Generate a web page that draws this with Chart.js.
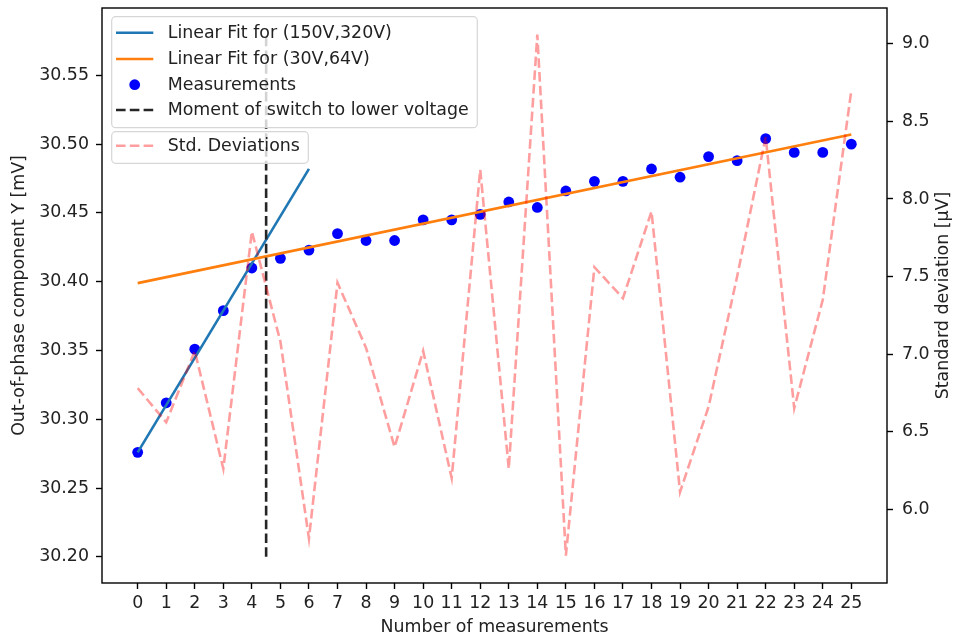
<!DOCTYPE html>
<html>
<head>
<meta charset="utf-8">
<script src="https://cdn.jsdelivr.net/npm/chart.js@4/dist/chart.umd.min.js"></script>
<style>
  html, body { margin: 0; padding: 0; background: #fff; }
  canvas { display: block; }
</style>
</head>
<body>
<canvas id="chart" width="956" height="638"></canvas>
<script>
// data
const measurementNo = [0, 1, 2, 3, 4, 5, 6, 7, 8, 9, 10, 11, 12, 13, 14, 15, 16, 17, 18, 19, 20, 21, 22, 23, 24, 25];
const measurements = [30.276, 30.312, 30.351, 30.379, 30.410, 30.417, 30.423, 30.435, 30.430, 30.430,
  30.445, 30.445, 30.449, 30.458, 30.454, 30.466, 30.473, 30.473, 30.482, 30.476,
  30.491, 30.488, 30.504, 30.494, 30.494, 30.500];
const stdDevs = [6.78, 6.56, 7.02, 6.26, 7.79, 7.08, 5.81, 7.46, 7.04, 6.40,
  7.02, 6.20, 8.19, 6.26, 9.06, 5.70, 7.56, 7.36, 7.92, 6.11,
  6.66, 7.50, 8.40, 6.65, 7.35, 8.70];

const highFitX = [0, 6];
const highFitY = [30.276, 30.482];
const lowFitX = [0, 25];
const lowFitY = [30.399, 30.507];
const switchX = [4.5, 4.5];
const switchY = [30.20, 30.58];

const xTicks = measurementNo;
const leftTicks = [30.20, 30.25, 30.30, 30.35, 30.40, 30.45, 30.50, 30.55];
const rightTicks = [6.0, 6.5, 7.0, 7.5, 8.0, 8.5, 9.0];

const FONT_FAMILY = 'DejaVu Sans';
const FONT_SIZE = 17.4;
const TEXT = '#222';
const LW = 2.6;
const DASH = [9.6, 4.2];

const pts = (xs, ys) => xs.map((x, i) => ({x: x, y: ys[i]}));

const legendBoxes = [
  {x: 111.7, y: 16.7, w: 365.6, h: 111, rows: [32.7, 59, 84.7, 110],
   labels: ['Linear Fit for (150V,320V)', 'Linear Fit for (30V,64V)', 'Measurements', 'Moment of switch to lower voltage']},
  {x: 111.7, y: 131.7, w: 196.6, h: 31.6, rows: [145.7], labels: ['Std. Deviations']},
];

const extras = {
  id: 'extras',
  afterDraw(chart) {
    const ctx = chart.ctx;
    const a = chart.chartArea;
    ctx.save();
    // frame
    ctx.strokeStyle = '#000';
    ctx.lineWidth = 1.4;
    ctx.setLineDash([]);
    ctx.strokeRect(a.left, a.top, a.right - a.left, a.bottom - a.top);

    // axis titles
    ctx.fillStyle = TEXT;
    ctx.font = FONT_SIZE + 'px "' + FONT_FAMILY + '"';
    ctx.textAlign = 'center';
    ctx.textBaseline = 'middle';
    ctx.fillText('Number of measurements', (a.left + a.right) / 2, 627);
    const midY = (a.top + a.bottom) / 2;
    [[19, 'Out-of-phase component Y [mV]'], [943, 'Standard deviation [μV]']].forEach(([x, t]) => {
      ctx.save();
      ctx.translate(x, midY);
      ctx.rotate(-Math.PI / 2);
      ctx.fillText(t, 0, 0);
      ctx.restore();
    });

    // legends
    const sets = chart.data.datasets;
    legendBoxes.forEach(box => {
      ctx.beginPath();
      ctx.roundRect(box.x, box.y, box.w, box.h, 4);
      ctx.fillStyle = 'rgba(255,255,255,0.8)';
      ctx.fill();
      ctx.strokeStyle = '#d6d6d6';
      ctx.lineWidth = 1.2;
      ctx.setLineDash([]);
      ctx.stroke();
      box.labels.forEach((lab, i) => {
        const ds = sets.find(d => d.label === lab);
        const y = box.rows[i];
        if (ds.showLine === false) {
          ctx.beginPath();
          ctx.arc(134.7, y, ds.pointRadius, 0, Math.PI * 2);
          ctx.fillStyle = ds.backgroundColor;
          ctx.fill();
        } else {
          ctx.beginPath();
          ctx.moveTo(116, y);
          ctx.lineTo(153.3, y);
          ctx.strokeStyle = ds.borderColor;
          ctx.lineWidth = ds.borderWidth;
          ctx.setLineDash(ds.borderDash || []);
          ctx.stroke();
          ctx.setLineDash([]);
        }
        ctx.fillStyle = TEXT;
        ctx.textAlign = 'left';
        ctx.textBaseline = 'middle';
        ctx.fillText(lab, 167.7, y + 0.5);
      });
    });
    ctx.restore();
  }
};

const tickGrid = {display: true, drawOnChartArea: false, drawTicks: true, color: '#000', tickLength: 6, tickWidth: 1.4};

// pin the plot area: no extra room for overhanging edge labels
const fixY = w => axis => { axis.width = w; axis.paddingTop = 0; axis.paddingBottom = 0; };

new Chart(document.getElementById('chart'), {
  type: 'line',
  plugins: [extras],
  data: {
    datasets: [
      {
        label: 'Std. Deviations',
        data: pts(measurementNo, stdDevs),
        yAxisID: 'y2',
        borderColor: 'rgba(255,0,0,0.38)',
        borderWidth: LW,
        borderDash: DASH,
        pointRadius: 0,
        tension: 0,
        order: 0,
      },
      {
        label: 'Moment of switch to lower voltage',
        data: pts(switchX, switchY),
        yAxisID: 'y',
        borderColor: '#262626',
        borderWidth: LW,
        borderDash: DASH,
        pointRadius: 0,
        order: 1,
      },
      {
        label: 'Linear Fit for (30V,64V)',
        data: pts(lowFitX, lowFitY),
        yAxisID: 'y',
        borderColor: '#ff7f0e',
        borderWidth: LW,
        pointRadius: 0,
        order: 2,
      },
      {
        label: 'Linear Fit for (150V,320V)',
        data: pts(highFitX, highFitY),
        yAxisID: 'y',
        borderColor: '#1f77b4',
        borderWidth: LW,
        pointRadius: 0,
        order: 3,
      },
      {
        label: 'Measurements',
        data: pts(measurementNo, measurements),
        yAxisID: 'y',
        showLine: false,
        pointRadius: 5.4,
        pointBorderWidth: 0,
        backgroundColor: '#0000ff',
        borderColor: '#0000ff',
        order: 4,
      },
    ],
  },
  options: {
    responsive: false,
    animation: false,
    events: [],
    layout: {padding: {top: 8, left: 0, right: 0, bottom: 0}},
    plugins: {
      legend: {display: false},
      tooltip: {enabled: false},
    },
    scales: {
      x: {
        type: 'linear',
        min: -1.25,
        max: 26.25,
        afterBuildTicks: axis => { axis.ticks = xTicks.map(v => ({value: v})); },
        afterFit: axis => { axis.height = 55; axis.paddingLeft = 0; axis.paddingRight = 0; },
        ticks: {
          autoSkip: false,
          maxRotation: 0,
          padding: 4,
          color: TEXT,
          font: {family: FONT_FAMILY, size: FONT_SIZE},
          callback: v => String(v),
        },
        grid: tickGrid,
        border: {display: false},
      },
      y: {
        type: 'linear',
        position: 'left',
        min: 30.181,
        max: 30.599,
        afterBuildTicks: axis => { axis.ticks = leftTicks.map(v => ({value: v})); },
        afterFit: fixY(102),
        ticks: {
          padding: 7,
          color: TEXT,
          font: {family: FONT_FAMILY, size: FONT_SIZE},
          callback: v => Number(v).toFixed(2),
        },
        grid: tickGrid,
        border: {display: false},
      },
      y2: {
        type: 'linear',
        position: 'right',
        min: 5.523,
        max: 9.232,
        afterBuildTicks: axis => { axis.ticks = rightTicks.map(v => ({value: v})); },
        afterFit: fixY(69),
        ticks: {
          padding: 9,
          color: TEXT,
          font: {family: FONT_FAMILY, size: FONT_SIZE},
          callback: v => Number(v).toFixed(1),
        },
        grid: tickGrid,
        border: {display: false},
      },
    },
  },
});
</script>
</body>
</html>
